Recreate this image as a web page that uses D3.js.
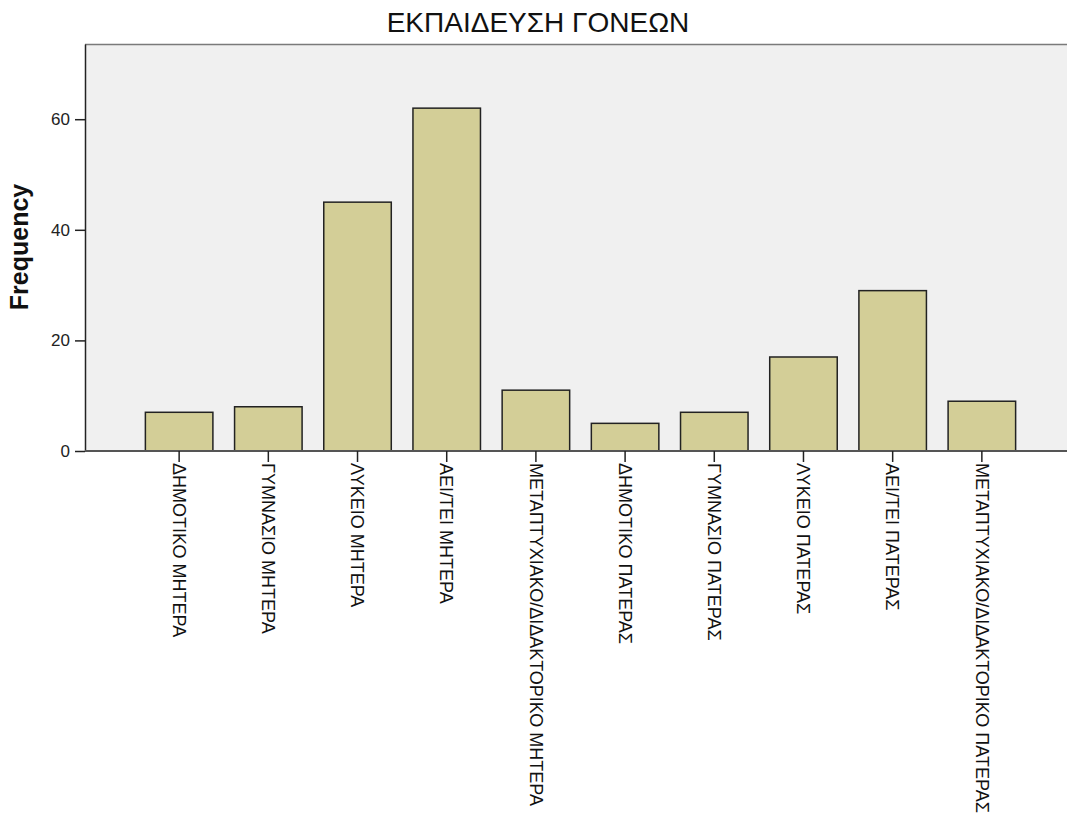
<!DOCTYPE html>
<html>
<head>
<meta charset="utf-8">
<script src="https://d3js.org/d3.v7.min.js"></script>
<style>
  body { margin: 0; background: #fff; }
  svg text { font-family: "Liberation Sans", Arial, sans-serif; }
</style>
</head>
<body>
<svg id="chart"></svg>
<script>
  // categories and frequencies
  const categories = [
    "ΔΗΜΟΤΙΚΟ ΜΗΤΕΡΑ",
    "ΓΥΜΝΑΣΙΟ ΜΗΤΕΡΑ",
    "ΛΥΚΕΙΟ ΜΗΤΕΡΑ",
    "ΑΕΙ/ΤΕΙ ΜΗΤΕΡΑ",
    "ΜΕΤΑΠΤΥΧΙΑΚΟ/ΔΙΔΑΚΤΟΡΙΚΟ ΜΗΤΕΡΑ",
    "ΔΗΜΟΤΙΚΟ ΠΑΤΕΡΑΣ",
    "ΓΥΜΝΑΣΙΟ ΠΑΤΕΡΑΣ",
    "ΛΥΚΕΙΟ ΠΑΤΕΡΑΣ",
    "ΑΕΙ/ΤΕΙ ΠΑΤΕΡΑΣ",
    "ΜΕΤΑΠΤΥΧΙΑΚΟ/ΔΙΔΑΚΤΟΡΙΚΟ ΠΑΤΕΡΑΣ"
  ];
  const frequency = [7, 8, 45, 62, 11, 5, 7, 17, 29, 9];
  const yTicks = [0, 20, 40, 60];

  (function () {
    const width = 1067, height = 825;
    const plotLeft = 85, plotRight = 1076, plotTop = 44, plotBottom = 451;

    const svg = d3.select("#chart")
      .attr("width", width)
      .attr("height", height);

    const x = d3.scaleBand()
      .domain(categories)
      .range([plotLeft, plotRight])
      .paddingInner(0.243)
      .paddingOuter(0.677);

    const y = d3.scaleLinear()
      .domain([0, 73.6])
      .range([plotBottom, plotTop]);

    // plot background
    svg.append("rect")
      .attr("x", plotLeft)
      .attr("y", plotTop)
      .attr("width", plotRight - plotLeft)
      .attr("height", plotBottom - plotTop)
      .attr("fill", "#f0f0f0");

    // top border
    svg.append("line")
      .attr("x1", plotLeft).attr("x2", width)
      .attr("y1", plotTop + 0.5).attr("y2", plotTop + 0.5)
      .attr("stroke", "#7a7a7a")
      .attr("stroke-width", 1.5);

    // bars
    svg.selectAll("rect.bar")
      .data(frequency)
      .enter()
      .append("rect")
      .attr("class", "bar")
      .attr("x", (d, i) => x(categories[i]))
      .attr("y", d => y(d))
      .attr("width", x.bandwidth())
      .attr("height", d => y(0) - y(d))
      .attr("fill", "#d3ce97")
      .attr("stroke", "#222")
      .attr("stroke-width", 1.5);

    // y axis
    const yAxis = svg.append("g")
      .attr("transform", "translate(" + plotLeft + ",0)")
      .call(d3.axisLeft(y).tickValues(yTicks).tickSize(10).tickSizeOuter(0).tickPadding(5));
    yAxis.select(".domain").attr("stroke", "#222").attr("stroke-width", 1.5);
    yAxis.selectAll(".tick line").attr("stroke", "#222").attr("stroke-width", 1.5);
    yAxis.selectAll(".tick text")
      .attr("font-size", 17)
      .attr("fill", "#222")
      .style("font-family", "'Liberation Sans', Arial, sans-serif");

    // x axis
    const xAxis = svg.append("g")
      .attr("transform", "translate(0," + plotBottom + ")")
      .call(d3.axisBottom(x).tickSize(11).tickSizeOuter(0));
    xAxis.select(".domain")
      .attr("d", "M" + plotLeft + ",0H" + width)
      .attr("stroke", "#555")
      .attr("stroke-width", 2);
    xAxis.selectAll(".tick line").attr("stroke", "#222").attr("stroke-width", 1.5);
    xAxis.selectAll(".tick text")
      .attr("font-size", 18)
      .attr("fill", "#111")
      .attr("text-anchor", "start")
      .attr("transform", "rotate(90)")
      .attr("x", 12)
      .attr("y", 0)
      .attr("dy", "0.35em")
      .style("font-family", "'Liberation Sans', Arial, sans-serif");

    // y axis title
    svg.append("text")
      .attr("transform", "translate(28,247) rotate(-90)")
      .attr("text-anchor", "middle")
      .attr("font-size", 25)
      .attr("font-weight", "bold")
      .attr("fill", "#111")
      .text("Frequency");

    // chart title
    svg.append("text")
      .attr("x", 538)
      .attr("y", 32)
      .attr("text-anchor", "middle")
      .attr("font-size", 28)
      .attr("fill", "#111")
      .text("ΕΚΠΑΙΔΕΥΣΗ ΓΟΝΕΩΝ");
  })();
</script>
</body>
</html>
